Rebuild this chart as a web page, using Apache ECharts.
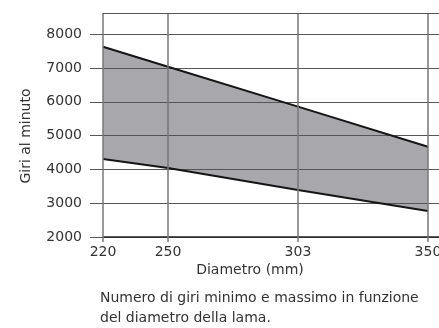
<!DOCTYPE html>
<html>
<head>
<meta charset="utf-8">
<script src="https://cdn.jsdelivr.net/npm/echarts@6/dist/echarts.min.js"></script>
<style>
  html, body { margin: 0; padding: 0; background: #fff; }
  #main { width: 439px; height: 328px; }
</style>
</head>
<body>
<div id="main"></div>
<script>
// diametri della lama (mm) e posizione sull'asse
const diametri = ['220', '250', '303', '350'];
const posizioni = [0, 1, 3, 5];
// giri al minuto
const giriMax = [7630, 7040, 5860, 4670];
const giriMin = [4310, 4040, 3390, 2770];
const yTicks = [2000, 3000, 4000, 5000, 6000, 7000, 8000];

const font = 'DejaVu Sans';
const fs = 14;

const pts = (arr) => posizioni.map((p, i) => [p, arr[i]]);

const myChart = echarts.init(document.getElementById('main'), null, { renderer: 'canvas' });

const option = {
  animation: false,
  grid: { left: 103, right: 0, top: 13, bottom: 91, outerBoundsMode: 'none', containLabel: false },
  xAxis: {
    type: 'value',
    min: 0,
    max: 5.17,
    axisLine: { show: true, lineStyle: { color: '#222', width: 1.5 } },
    axisTick: { show: true, length: 5, customValues: posizioni, lineStyle: { color: '#777', width: 1.5 } },
    axisLabel: {
      customValues: posizioni,
      margin: 8,
      color: '#333',
      fontFamily: font,
      fontSize: fs,
      formatter: (v) => diametri[posizioni.indexOf(v)]
    },
    splitLine: { show: false }
  },
  yAxis: {
    type: 'value',
    min: 2000,
    max: 8630,
    axisLine: { show: false },
    axisTick: { show: true, length: 13, customValues: yTicks, lineStyle: { color: '#555' } },
    axisLabel: {
      customValues: yTicks,
      margin: 21,
      color: '#333',
      fontFamily: font,
      fontSize: fs,
      formatter: (v) => String(v)
    },
    splitLine: { show: true, lineStyle: { color: '#555', width: 1 } }
  },
  series: [{
    // area grigia sotto il massimo
    type: 'line',
    data: pts(giriMax),
    symbol: 'none',
    z: -2,
    lineStyle: { width: 0, opacity: 0 },
    areaStyle: { color: '#a8a8ac', opacity: 1, origin: 'start' }
  }, {
    // area bianca sotto il minimo
    type: 'line',
    data: pts(giriMin),
    symbol: 'none',
    z: -1,
    lineStyle: { width: 0, opacity: 0 },
    areaStyle: { color: '#fff', opacity: 1, origin: 'start' }
  }, {
    type: 'line',
    data: pts(giriMax),
    symbol: 'none',
    lineStyle: { color: '#151515', width: 2 },
    markLine: {
      silent: true,
      symbol: 'none',
      label: { show: false },
      lineStyle: { color: '#777', width: 1.5, type: 'solid' },
      data: posizioni.map((p) => ({ xAxis: p })).concat([{ yAxis: 8630, lineStyle: { color: '#555', width: 1 } }])
    }
  }, {
    type: 'line',
    data: pts(giriMin),
    symbol: 'none',
    lineStyle: { color: '#151515', width: 2 }
  }],
  graphic: [{
    type: 'text',
    x: 26, y: 136,
    rotation: Math.PI / 2,
    style: { text: 'Giri al minuto', fontFamily: font, fontSize: fs, fill: '#333', align: 'center', verticalAlign: 'middle' }
  }, {
    type: 'text',
    x: 250, y: 270,
    style: { text: 'Diametro (mm)', fontFamily: font, fontSize: fs, fill: '#333', align: 'center', verticalAlign: 'middle' }
  }, {
    type: 'text',
    x: 100, y: 288,
    style: {
      text: 'Numero di giri minimo e massimo in funzione\ndel diametro della lama.',
      fontFamily: font, fontSize: fs, lineHeight: 20, fill: '#333', align: 'left', verticalAlign: 'top'
    }
  }]
};

myChart.setOption(option);
</script>
</body>
</html>
